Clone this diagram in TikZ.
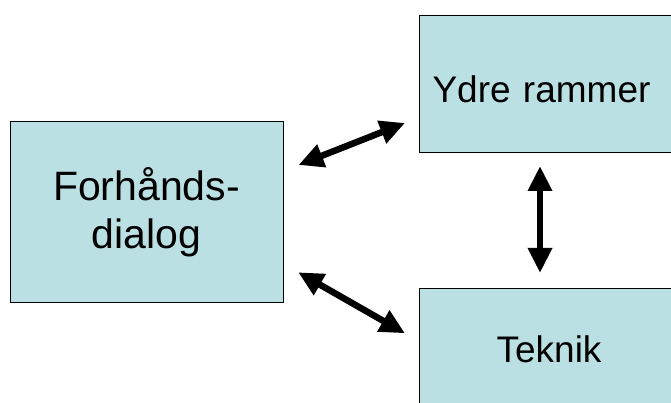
\documentclass[tikz,border=0pt]{standalone}
\usepackage{fontspec}
\setmainfont{Liberation Sans}
\usetikzlibrary{positioning, arrows.meta}

\definecolor{boxfill}{RGB}{187,224,227}

\begin{document}
\begin{tikzpicture}[x=1pt, y=1pt,
    box/.style={rectangle, draw=black, line width=1pt, fill=boxfill, inner sep=0pt},
    dblarrow/.style={{Triangle[length=25pt, width=23pt]}-{Triangle[length=25pt, width=23pt]}, line width=6.5pt, black}]

\useasboundingbox (0,0) rectangle (671,403);

% Boxes
\node [box, minimum width=273pt, minimum height=181pt, align=center,
       font=\fontsize{41}{48.4}\selectfont] (dialog) at (146.5,190.5) {Forhånds-\\dialog};
\node [box, anchor=north west, minimum height=137pt, inner xsep=13pt, text width=255pt, align=left,
       text height=37pt, text depth=0pt, font=\fontsize{37}{44}\selectfont] (ydre) at (419,388) {Ydre rammer};
\node [box, anchor=north west, minimum width=259pt, minimum height=121pt, align=center,
       text height=27pt, text depth=0pt, font=\fontsize{37}{44}\selectfont] (teknik) at (419,115) {Teknik};

% Arrows
\draw [dblarrow] ([shift={(15pt,47.5pt)}]dialog.east) -- ([shift={(-14pt,30pt)}]ydre.south west);
\draw [dblarrow] ([shift={(14.7pt,-59.8pt)}]dialog.east) -- ([shift={(-14pt,-45.3pt)}]teknik.north west);
\draw [dblarrow] ([shift={(121pt,-13pt)}]ydre.south west) -- ([shift={(121pt,15pt)}]teknik.north west);

\end{tikzpicture}
\end{document}
